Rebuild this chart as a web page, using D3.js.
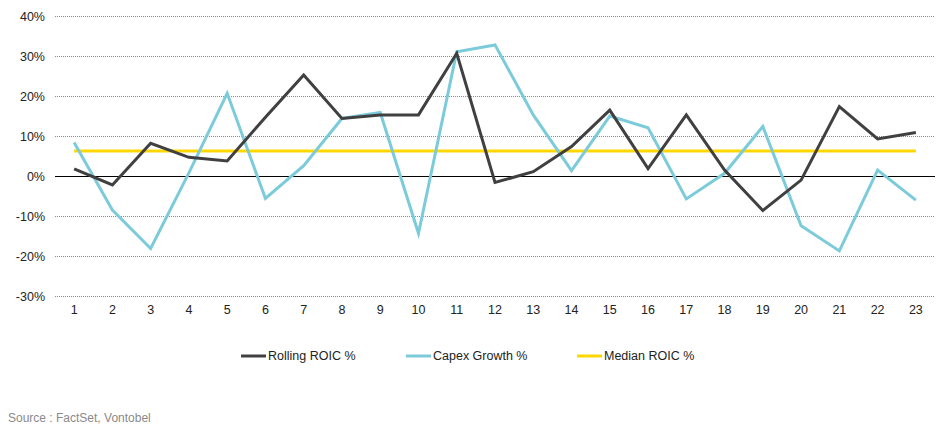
<!DOCTYPE html>
<html>
<head>
<meta charset="utf-8">
<script src="https://cdn.jsdelivr.net/npm/d3@7"></script>
<style>
  body { margin: 0; background: #fff; }
  svg text { font-family: "Liberation Sans", Arial, sans-serif; }
</style>
</head>
<body>
<svg id="chart" width="936" height="425"></svg>
<script>
// categories and series (in %)
const periods = d3.range(1, 24).map(String);
const rollingRoic = [1.9, -2.1, 8.3, 4.8, 3.9, 14.8, 25.4, 14.5, 15.4, 15.4, 30.8, -1.5, 1.2, 7.5, 16.6, 2.0, 15.4, 1.6, -8.5, -0.9, 17.5, 9.4, 11.0];
const capexGrowth = [8.5, -8.4, -18.0, 0.9, 20.8, -5.5, 2.7, 14.5, 16.0, -14.2, 31.2, 32.9, 15.4, 1.5, 15.1, 12.2, -5.6, 0.8, 12.5, -12.3, -18.6, 1.6, -5.9];
const medianRoic = 6.4;
const yTicks = [-30, -20, -10, 0, 10, 20, 30, 40];
const seriesNames = ["Rolling ROIC %", "Capex Growth %", "Median ROIC %"];
const colors = ["#404040", "#7ccbdb", "#ffd700"];

const svg = d3.select("#chart");
const margin = { top: 16.5, right: 1, bottom: 128.5, left: 55 };
const width = 936 - margin.left - margin.right;
const height = 425 - margin.top - margin.bottom;

const g = svg.append("g").attr("transform", `translate(${margin.left},${margin.top})`);

const x = d3.scaleBand().domain(periods).range([0, width]).padding(0);
const y = d3.scaleLinear().domain([-30, 40]).range([height, 0]);
const cx = d => x(d) + x.bandwidth() / 2;

// gridlines
g.selectAll(".grid")
  .data(yTicks.filter(t => t !== 0))
  .enter()
  .append("line")
  .attr("x1", 0).attr("x2", width)
  .attr("y1", d => y(d)).attr("y2", d => y(d))
  .attr("stroke", "#8c8c8c")
  .attr("stroke-width", 1)
  .attr("stroke-dasharray", "1,1");

// zero line
g.append("line")
  .attr("x1", 0).attr("x2", width)
  .attr("y1", y(0)).attr("y2", y(0))
  .attr("stroke", "#000").attr("stroke-width", 1);

// y axis labels
const yAxis = g.append("g")
  .call(d3.axisLeft(y).tickValues(yTicks).tickFormat(d => d + "%").tickSize(0).tickPadding(10));
yAxis.select(".domain").remove();
yAxis.selectAll("text").attr("font-size", 12.5).attr("fill", "#222");

// x axis labels
const xAxis = g.append("g")
  .attr("transform", `translate(0,${height})`)
  .call(d3.axisBottom(x).tickSize(0).tickPadding(9));
xAxis.select(".domain").remove();
xAxis.selectAll("text").attr("font-size", 12.5).attr("fill", "#222");

const line = d3.line().x((d, i) => cx(periods[i])).y(d => y(d));

// median line
g.append("path")
  .datum(periods.map(() => medianRoic))
  .attr("d", line)
  .attr("fill", "none")
  .attr("stroke", colors[2])
  .attr("stroke-width", 3);

g.append("path")
  .datum(capexGrowth)
  .attr("d", line)
  .attr("fill", "none")
  .attr("stroke", colors[1])
  .attr("stroke-width", 3)
  .attr("stroke-linejoin", "miter");

g.append("path")
  .datum(rollingRoic)
  .attr("d", line)
  .attr("fill", "none")
  .attr("stroke", colors[0])
  .attr("stroke-width", 3)
  .attr("stroke-linejoin", "miter");

// legend
const legendX = [241, 406, 577];
const legend = svg.selectAll(".legend")
  .data(seriesNames)
  .enter()
  .append("g")
  .attr("transform", (d, i) => `translate(${legendX[i]},356)`);
legend.append("line")
  .attr("x1", 0).attr("x2", 25).attr("y1", 0).attr("y2", 0)
  .attr("stroke", (d, i) => colors[i])
  .attr("stroke-width", 3);
legend.append("text")
  .attr("x", 27).attr("y", 0)
  .attr("dy", "0.35em")
  .attr("font-size", 12.5)
  .attr("fill", "#222")
  .text(d => d);

// source
svg.append("text")
  .attr("x", 8).attr("y", 418)
  .attr("dy", "0.35em")
  .attr("font-size", 12)
  .attr("fill", "#8a8a8a")
  .text("Source : FactSet, Vontobel");
</script>
</body>
</html>
